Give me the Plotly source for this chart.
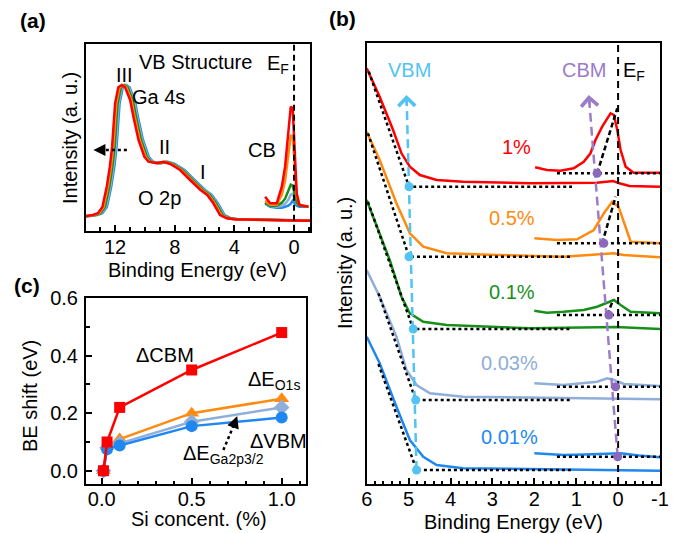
import plotly.graph_objects as go

FONT = "Arial, Liberation Sans, sans-serif"
FS = 20

# ---------------- data ----------------
names = ["0.01%", "0.03%", "0.1%", "0.5%", "1%"]
colors = ["#1E88F0", "#8FAEDA", "#17901A", "#FF8A10", "#FF0000"]

# Panel (a): valence band structure (profile of 1% sample) and shifts
a_E = [14.3, 13.94, 13.5, 13.15, 12.85, 12.56, 12.35, 12.2, 12.0, 11.78, 11.55, 11.33, 10.99, 10.77,
       10.43, 10.04, 9.76, 9.2, 8.76, 8.3, 7.64, 6.97, 6.27, 5.82, 5.41, 4.96, 4.51, 4.04, 3.0,
       1.82, 0.5, -1.07]
a_I = [14.0, 14.7, 15.7, 17.4, 23.7, 44.0, 64.0, 84.0, 127.4, 143.4, 145.7, 143.4, 130.7, 114.0,
       90.7, 74.0, 69.0, 67.4, 69.0, 66.7, 60.7, 50.7, 40.7, 35.7, 27.4, 15.7, 12.4, 11.4, 11.0,
       10.7, 10.4, 10.0]
a_shift = [0.30, 0.24, 0.17, 0.08, 0.0]

a_cbE = [1.94, 1.6, 1.16, 0.82, 0.6, 0.38, 0.22, 0.09, -0.02, -0.18, -0.36, -0.96]
a_cbI = {
    "0.01%": [27, 24, 23, 23, 24, 25, 27, 30, 28, 25, 24, 24],
    "0.03%": [28, 25, 24, 25, 27, 31, 36, 37, 33, 27, 25, 24],
    "0.1%": [28, 25, 25, 28, 32, 40, 46, 45, 38, 28, 25, 24],
    "0.5%": [30, 26, 26, 36, 50, 75, 95, 95, 70, 35, 26, 24],
    "1%": [34, 27.4, 27.4, 44, 64, 104, 124, 122.4, 90.7, 37.4, 25.7, 24],
}
a_ticks = [12, 8, 4, 0]
a_ticktext = ["12", "8", "4", "0"]

# Panel (b): VB edge and CB spectra (offset stacks)
b_vbE = {
    "0.01%": [6.0, 5.69, 5.29, 4.97, 4.65, 4.33, 3.70, 1.30, -1.0],
    "0.03%": [6.0, 5.69, 5.29, 5.05, 4.81, 4.49, 3.70, 1.30, -1.0],
    "0.1%": [6.0, 5.69, 5.45, 5.17, 4.97, 4.65, 4.09, 2.10, 0.50, 0.05, -1.0],
    "0.5%": [6.0, 5.69, 5.29, 4.97, 4.65, 4.09, 2.90, 1.30, 0.10, -0.13, -1.0],
    "1%": [6.0, 5.69, 5.37, 5.17, 4.97, 4.73, 4.33, 3.70, 2.11, 0.51, 0.12, -0.03, -0.27, -1.0],
}
b_vbI = {
    "0.01%": [147.3, 120.7, 77.3, 44.0, 27.3, 19.0, 15.7, 14.7, 13.3],
    "0.03%": [214.0, 187.3, 147.3, 114.0, 99.0, 90.7, 87.3, 85.7, 84.7],
    "0.1%": [284.0, 250.7, 224.0, 187.3, 170.7, 162.3, 159.0, 155.7, 156.3, 157.0, 155.0],
    "0.5%": [352.3, 324.0, 280.7, 250.7, 237.3, 230.7, 229.0, 227.3, 230.7, 229.0, 226.7],
    "1%": [415.7, 387.3, 354.0, 330.7, 317.3, 309.0, 304.0, 302.3, 300.7, 301.3, 303.0, 300.7, 298.0, 297.3],
}
b_cbE = {
    "0.01%": [2.0, 1.6, 1.30, 0.8, 0.10, -0.06, -0.5, -1.0],
    "0.03%": [2.0, 1.6, 1.30, 0.50, 0.26, 0.10, -0.14, -1.0],
    "0.1%": [2.0, 1.70, 1.30, 0.82, 0.50, 0.26, 0.10, -0.06, -0.30, -1.0],
    "0.5%": [2.0, 1.46, 0.98, 0.58, 0.34, 0.14, -0.01, -0.18, -0.30, -1.0],
    "1%": [1.98, 1.70, 1.38, 1.06, 0.82, 0.66, 0.54, 0.38, 0.18, 0.10, 0.02, -0.06, -0.18, -0.37, -1.0],
}
b_cbI = {
    "0.01%": [30.7, 29.5, 29.0, 29.6, 30.0, 30.7, 28.5, 26.7],
    "0.03%": [100.7, 99.5, 99.0, 102.3, 105.7, 104.0, 100.0, 98.0],
    "0.1%": [173.3, 171.3, 172.3, 174.0, 177.3, 181.3, 184.0, 179.0, 172.3, 170.7],
    "0.5%": [245.7, 244.0, 244.7, 254.0, 270.7, 282.3, 277.3, 257.3, 242.3, 240.7],
    "1%": [316.7, 314.0, 313.3, 315.7, 322.3, 330.7, 344.0, 357.3, 370.7, 369.0, 354.0, 334.0, 317.3, 311.3, 311.3],
}
b_ticks = [6, 5, 4, 3, 2, 1, 0, -1]
b_ticktext = ["6", "5", "4", "3", "2", "1", "0", "-1"]
# VBM: linear extrapolation start, VBM point
vb_startE = [5.72, 5.72, 5.97, 5.97, 5.95]
vb_startI = [120.0, 190.7, 282.0, 350.7, 412.3]
vbmE = [4.81, 4.83, 4.89, 4.99, 4.99]
vbmI = [14.0, 84.0, 155.0, 227.3, 297.3]
vb_lineEnd = 1.1
# CBM: baseline, CBM point, leading-edge fit
cb_baseStart = 1.46
cb_baseI = [27.3, 97.3, 169.0, 240.7, 310.7]
cbmE = [0.01, 0.06, 0.22, 0.34, 0.50]
edge_topE = [None, None, 0.12, 0.06, 0.02]
edge_topI = [None, None, 184.0, 287.3, 375.7]
edge_botE = [None, None, 0.26, 0.38, 0.50]
vbm_arrowE = [4.81, 5.05]
vbm_arrowI = [14.0, 389.0]
cbm_arrowE = [0.01, 0.70]
cbm_arrowI = [27.3, 389.0]
label_E = [2.58, 2.58, 2.54, 2.54, 2.42]
label_I = [47.3, 120.7, 192.3, 265.7, 337.3]

# Panel (c): BE shifts
si = [0.01, 0.03, 0.1, 0.5, 1.0]
d_cbm = [0.0, 0.10, 0.22, 0.35, 0.48]
d_o1s = [0.0, 0.085, 0.11, 0.20, 0.25]
d_ga = [0.0, 0.08, 0.095, 0.17, 0.22]
d_vbm = [0.0, 0.075, 0.088, 0.155, 0.185]
c_xticks = [0.0, 0.5, 1.0]
c_xticktext = ["0.0", "0.5", "1.0"]
c_yticks = [0.0, 0.2, 0.4, 0.6]
c_yticktext = ["0.0", "0.2", "0.4", "0.6"]

VBM_C = "#52C3F2"
CBM_C = "#9B7CC8"
CBM_M = "#8C68BC"

fig = go.Figure()

# ---------- panel (a) ----------
for n, c, s in zip(names, colors, a_shift):
    fig.add_trace(go.Scatter(x=[e - s for e in a_E], y=a_I, mode="lines",
                             line=dict(color=c, width=2.5), xaxis="x", yaxis="y", showlegend=False))
for n, c in zip(names, colors):
    fig.add_trace(go.Scatter(x=a_cbE, y=a_cbI[n], mode="lines",
                             line=dict(color=c, width=2.5), xaxis="x", yaxis="y", showlegend=False))
fig.add_trace(go.Scatter(x=[0, 0], y=[0, 186.7], mode="lines",
                         line=dict(color="black", width=2, dash="6px,4px"),
                         xaxis="x", yaxis="y", showlegend=False))
fig.add_trace(go.Scatter(x=[11.21, 13.2], y=[80.7, 80.7], mode="lines",
                         line=dict(color="black", width=2.5, dash="dot"),
                         xaxis="x", yaxis="y", showlegend=False))

# ---------- panel (b) ----------
for i, (n, c) in enumerate(zip(names, colors)):
    fig.add_trace(go.Scatter(x=b_vbE[n], y=b_vbI[n], mode="lines",
                             line=dict(color=c, width=2.5), xaxis="x2", yaxis="y2", showlegend=False))
    fig.add_trace(go.Scatter(x=b_cbE[n], y=b_cbI[n], mode="lines",
                             line=dict(color=c, width=2.5), xaxis="x2", yaxis="y2", showlegend=False))
for i in range(5):
    fig.add_trace(go.Scatter(x=[vb_startE[i], vbmE[i], vb_lineEnd],
                             y=[vb_startI[i], vbmI[i], vbmI[i]], mode="lines",
                             line=dict(color="black", width=2.5, dash="dot"),
                             xaxis="x2", yaxis="y2", showlegend=False))
    fig.add_trace(go.Scatter(x=[cb_baseStart, -1.0], y=[cb_baseI[i], cb_baseI[i]], mode="lines",
                             line=dict(color="black", width=2.5, dash="dot"),
                             xaxis="x2", yaxis="y2", showlegend=False))
    if edge_topE[i] is not None:
        fig.add_trace(go.Scatter(x=[edge_botE[i], edge_topE[i]], y=[cb_baseI[i], edge_topI[i]],
                                 mode="lines", line=dict(color="black", width=2.5, dash="5px,3px"),
                                 xaxis="x2", yaxis="y2", showlegend=False))
fig.add_trace(go.Scatter(x=[0, 0], y=[0, 441], mode="lines",
                         line=dict(color="black", width=2, dash="7px,5px"),
                         xaxis="x2", yaxis="y2", showlegend=False))
fig.add_trace(go.Scatter(x=vbm_arrowE, y=vbm_arrowI, mode="lines",
                         line=dict(color=VBM_C, width=2.5, dash="9px,5px"),
                         xaxis="x2", yaxis="y2", showlegend=False))
fig.add_trace(go.Scatter(x=cbm_arrowE, y=cbm_arrowI, mode="lines",
                         line=dict(color=CBM_C, width=2.5, dash="9px,5px"),
                         xaxis="x2", yaxis="y2", showlegend=False))
fig.add_trace(go.Scatter(x=vbmE, y=vbmI, mode="markers",
                         marker=dict(color=VBM_C, size=9), xaxis="x2", yaxis="y2", showlegend=False))
fig.add_trace(go.Scatter(x=cbmE, y=cb_baseI, mode="markers",
                         marker=dict(color=CBM_M, size=9), xaxis="x2", yaxis="y2", showlegend=False))

# ---------- panel (c) ----------
series_c = [
    (d_o1s, "#FF8A10", "triangle-up", 13),
    (d_ga, "#8FAEDA", "diamond", 12),
    (d_vbm, "#1E88F0", "circle", 12),
    (d_cbm, "#FF0000", "square", 11),
]
for vals, c, sym, sz in series_c:
    fig.add_trace(go.Scatter(x=si, y=vals, mode="lines+markers",
                             line=dict(color=c, width=2.5),
                             marker=dict(color=c, symbol=sym, size=sz),
                             xaxis="x3", yaxis="y3", showlegend=False))
fig.add_trace(go.Scatter(x=[0.676, 0.745], y=[0.072, 0.175], mode="lines",
                         line=dict(color="black", width=2.5, dash="dot"),
                         xaxis="x3", yaxis="y3", showlegend=False))

# ---------- axes ----------
# the page body adds an 8 px margin, so lay out on a slightly smaller canvas
OFF = 8
W, H = 689 - OFF, 533 - OFF
def px(x0, x1):
    return [(x0 - OFF) / W, (x1 - OFF) / W]
def py(top, bot):
    return [1 - (bot - OFF) / H, 1 - (top - OFF) / H]
def ppx(x):
    return (x - OFF) / W
def ppy(y):
    return 1 - (y - OFF) / H

def tickax(domain, rng, tv, tt, minor, anchor, standoff):
    return dict(domain=domain, range=rng, anchor=anchor, automargin=False,
                tickmode="array", tickvals=tv, ticktext=tt, ticklabelstandoff=standoff,
                showline=True, mirror=True, linecolor="black", linewidth=2,
                ticks="inside", ticklen=6, tickwidth=1.5, tickcolor="black",
                minor=dict(dtick=minor, tick0=0, ticks="inside", ticklen=3.5, tickwidth=1.5,
                           tickcolor="black"),
                showgrid=False, zeroline=False,
                tickfont=dict(family=FONT, size=FS, color="black"))

def plainax(domain, rng, anchor):
    return dict(domain=domain, range=rng, anchor=anchor, automargin=False, showticklabels=False,
                showline=True, mirror=True, linecolor="black", linewidth=2, ticks="",
                showgrid=False, zeroline=False)

fig.update_layout(
    template="none",
    width=W, height=H, margin=dict(l=0, r=0, t=0, b=0, autoexpand=False),
    paper_bgcolor="white", plot_bgcolor="white",
    font=dict(family=FONT, size=FS, color="black"),
    xaxis=tickax(px(86, 310), [13.95, -1.07], a_ticks, a_ticktext, 1, "y", -3),
    yaxis=plainax(py(44, 230.7), [0, 186.7], "x"),
    xaxis2=tickax(px(366.7, 660), [6, -1.0], b_ticks, b_ticktext, 0.2, "y2", -4),
    yaxis2=plainax(py(43, 484), [0, 441], "x2"),
    xaxis3=tickax(px(86, 306), [-0.087, 1.135], c_xticks, c_xticktext, 0.1, "y3", -4),
    yaxis3=tickax(py(298, 484), [-0.046, 0.6], c_yticks, c_yticktext, 0.1, "x3", 2),
)

ann = []
def txt(x, y, t, xref, yref, color="black", size=FS, **kw):
    d = dict(x=x, y=y, text=t, xref=xref, yref=yref, showarrow=False,
             xanchor="center", yanchor="middle",
             font=dict(family=FONT, size=size, color=color))
    d.update(kw)
    ann.append(d)

txt(ppx(33), ppy(20), "<b>(a)</b>", "paper", "paper", size=21)
txt(ppx(342), ppy(18), "<b>(b)</b>", "paper", "paper", size=21)
txt(ppx(27), ppy(285), "<b>(c)</b>", "paper", "paper", size=21)
txt(ppx(70), ppy(138), "Intensity (a. u.)", "paper", "paper", textangle=-90)
txt(ppx(197), ppy(270), "Binding Energy (eV)", "paper", "paper")
txt(ppx(345), ppy(263), "Intensity (a. u.)", "paper", "paper", textangle=-90)
txt(ppx(513), ppy(522), "Binding Energy (eV)", "paper", "paper")
txt(ppx(30), ppy(396), "BE shift (eV)", "paper", "paper", textangle=-90)
txt(ppx(199), ppy(519), "Si concent. (%)", "paper", "paper")

txt(6.64, 168.7, "VB Structure", "x", "y")
txt(1.07, 166, "E<sub>F</sub>", "x", "y")
txt(11.4, 155.7, "III", "x", "y")
txt(9.1, 134, "Ga 4s", "x", "y")
txt(8.7, 84, "II", "x", "y")
txt(6.08, 59, "I", "x", "y")
txt(9.03, 32.4, "O 2p", "x", "y")
txt(2.16, 80.7, "CB", "x", "y")
ann.append(dict(x=13.45, y=80.7, ax=13.1, ay=80.7, xref="x", yref="y", axref="x", ayref="y",
                showarrow=True, arrowhead=2, arrowsize=1.2, arrowwidth=2, arrowcolor="black", text=""))

txt(4.97, 414, "VBM", "x2", "y2", color=VBM_C)
txt(0.82, 414, "CBM", "x2", "y2", color=CBM_C)
txt(-0.39, 412, "E<sub>F</sub>", "x2", "y2")
for n, c, ex, iy in zip(names, colors, label_E, label_I):
    txt(ex, iy, n, "x2", "y2", color=c)
for (E2, I2), col in [((vbm_arrowE, vbm_arrowI), VBM_C), ((cbm_arrowE, cbm_arrowI), CBM_C)]:
    tipE, tipI = E2[1], I2[1]
    ann.append(dict(x=tipE, y=tipI, ax=tipE + (E2[0] - tipE) * 0.03, ay=tipI + (I2[0] - tipI) * 0.03,
                    xref="x2", yref="y2", axref="x2", ayref="y2", showarrow=True,
                    arrowhead=4, arrowsize=1.3, arrowwidth=2.5, arrowcolor=col, text=""))

txt(0.352, 0.403, "ΔCBM", "x3", "y3")
txt(0.955, 0.315, "ΔE<sub>O1s</sub>", "x3", "y3")
txt(0.98, 0.105, "ΔVBM", "x3", "y3")
txt(0.676, 0.055, "ΔE<sub>Ga2p3/2</sub>", "x3", "y3")
ann.append(dict(x=0.753, y=0.19, ax=0.74, ay=0.168, xref="x3", yref="y3", axref="x3", ayref="y3",
                showarrow=True, arrowhead=2, arrowsize=1.2, arrowwidth=2, arrowcolor="black", text=""))

fig.update_layout(annotations=ann)
fig.write_html("out.html")
